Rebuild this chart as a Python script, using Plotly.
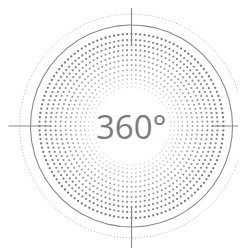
import numpy as np
import plotly.graph_objects as go

# Data
ring_radii = [39, 43, 47, 51, 56, 61, 66, 71, 76, 81, 86, 92]
ring_gray = [215, 205, 196, 186, 176, 166, 157, 149, 141, 134, 127, 120]
ring_size = [1.5, 1.6, 1.7, 1.8, 1.9, 2.0, 2.0, 2.1, 2.1, 2.2, 2.2, 2.3]
dot_arc_spacing = 4.4
solid_circle_r = 101
dotted_circle_r = 112
cross_r = [80, 123]
cross_angles = [0, 90, 180, 270]
label = "360°"

fig = go.Figure()

# dotted polar grid
for r, g, s in zip(ring_radii, ring_gray, ring_size):
    n = int(round(2 * np.pi * r / dot_arc_spacing / 4.0)) * 4
    th = np.deg2rad(np.arange(n) * 360.0 / n)
    fig.add_trace(go.Scatter(
        x=r * np.cos(th), y=r * np.sin(th), mode="markers",
        marker=dict(size=s, color=f"rgb({g},{g},{g})", line=dict(width=0)),
        hoverinfo="skip", showlegend=False))

# circles
tt = np.linspace(0, 2 * np.pi, 721)
fig.add_trace(go.Scatter(x=solid_circle_r * np.cos(tt), y=solid_circle_r * np.sin(tt),
                         mode="lines", line=dict(color="#8a8a8a", width=1.1),
                         hoverinfo="skip", showlegend=False))
fig.add_trace(go.Scatter(x=dotted_circle_r * np.cos(tt), y=dotted_circle_r * np.sin(tt),
                         mode="lines", line=dict(color="#b5b5b5", width=1, dash="1px,2px"),
                         hoverinfo="skip", showlegend=False))

# crosshair
for a in cross_angles:
    ar = np.deg2rad(a)
    fig.add_trace(go.Scatter(x=[cross_r[0] * np.cos(ar), cross_r[1] * np.cos(ar)],
                             y=[cross_r[0] * np.sin(ar), cross_r[1] * np.sin(ar)],
                             mode="lines", line=dict(color="#888888", width=1.1),
                             hoverinfo="skip", showlegend=False))

fig.add_annotation(x=0, y=0, text=label, showarrow=False,
                   font=dict(family="Open Sans", size=33, color="#7c7c7c"),
                   xanchor="center", yanchor="middle")

# page body has an 8px margin, so the figure is offset by 8px
fig.update_layout(
    width=246, height=248, margin=dict(l=0, r=0, t=0, b=0),
    paper_bgcolor="white", plot_bgcolor="white",
    xaxis=dict(range=[-123.5, 122.5], visible=False, fixedrange=True),
    yaxis=dict(range=[-130, 118], visible=False, fixedrange=True),
)

fig.write_html("out.html")
